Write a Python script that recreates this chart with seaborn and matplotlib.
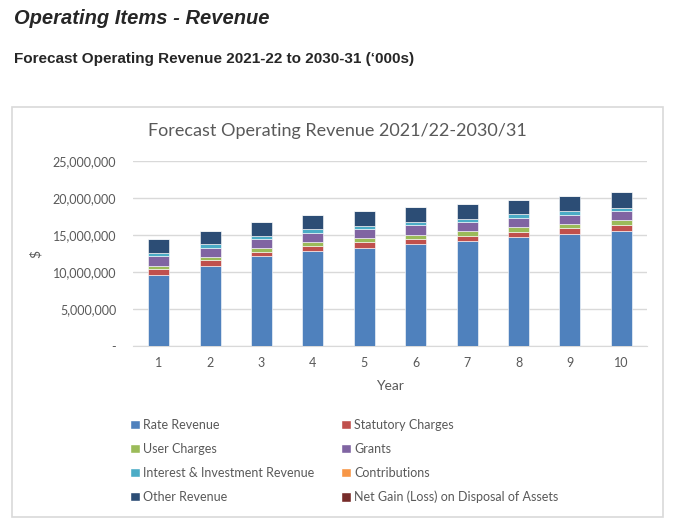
import numpy as np
import pandas as pd
import matplotlib.pyplot as plt
import seaborn as sns
from matplotlib.patches import Rectangle, Patch
from matplotlib.ticker import FuncFormatter

# values, in $ (the chart axis is labelled $)
years = [1, 2, 3, 4, 5, 6, 7, 8, 9, 10]
rate_revenue = [9.64e6, 10.81e6, 12.12e6, 12.88e6, 13.29e6, 13.78e6, 14.19e6, 14.68e6, 15.14e6, 15.54e6]
statutory_charges = [0.72e6, 0.81e6, 0.63e6, 0.63e6, 0.72e6, 0.68e6, 0.72e6, 0.77e6, 0.77e6, 0.81e6]
user_charges = [0.50e6, 0.40e6, 0.50e6, 0.54e6, 0.59e6, 0.59e6, 0.63e6, 0.59e6, 0.63e6, 0.63e6]
grants = [1.30e6, 1.26e6, 1.26e6, 1.26e6, 1.22e6, 1.31e6, 1.26e6, 1.26e6, 1.22e6, 1.26e6]
interest_investment = [0.45e6, 0.45e6, 0.40e6, 0.45e6, 0.45e6, 0.45e6, 0.40e6, 0.50e6, 0.45e6, 0.45e6]
contributions = [0, 0, 0, 0, 0, 0, 0, 0, 0, 0]
other_revenue = [1.85e6, 1.85e6, 1.89e6, 1.89e6, 1.94e6, 1.94e6, 2.03e6, 1.94e6, 2.12e6, 2.16e6]
net_gain = [0, 0, 0, 0, 0, 0, 0, 0, 0, 0]

series = [
    ("Rate Revenue", rate_revenue, "#4f81bd"),
    ("Statutory Charges", statutory_charges, "#c0504d"),
    ("User Charges", user_charges, "#9bbb59"),
    ("Grants", grants, "#8064a2"),
    ("Interest & Investment Revenue", interest_investment, "#4bacc6"),
    ("Contributions", contributions, "#f79646"),
    ("Other Revenue", other_revenue, "#2c4d75"),
    ("Net Gain (Loss) on Disposal of Assets", net_gain, "#772c2a"),
]

sns.set_style("white")
plt.rcParams['font.family'] = ['Lato', 'DejaVu Sans']

W, H = 675, 528
fig = plt.figure(figsize=(W / 100, H / 100), dpi=100)
fig.patch.set_facecolor("white")

# page header text
fig.text(14 / W, 1 - 19 / H, "Operating Items - Revenue", fontsize=14.5, fontweight="bold",
         fontstyle="italic", family=["Liberation Sans", "DejaVu Sans"], va="center", ha="left")
fig.text(14 / W, 1 - 59 / H, "Forecast Operating Revenue 2021-22 to 2030-31 (\u2018000s)", fontsize=11,
         fontweight="bold", family=["Liberation Sans Narrow", "Liberation Sans", "DejaVu Sans"],
         va="center", ha="left")

# chart frame
fig.patches.append(Rectangle((12 / W, 1 - 517 / H), 651 / W, 410 / H, transform=fig.transFigure,
                             fill=False, edgecolor="#d9d9d9", linewidth=1.2))

ax = fig.add_axes([133 / W, 1 - 346 / H, 514 / W, 185 / H])

df = pd.DataFrame({"Year": years})
bottom = np.zeros(len(years))
for name, vals, col in series:
    df[name] = vals
    sns.barplot(x=df["Year"], y=df[name], bottom=bottom, color=col, saturation=1, width=0.41,
                edgecolor="white", linewidth=0.4, ax=ax, zorder=3)
    bottom = bottom + np.array(vals)

ax.set_ylim(0, 25e6)
ax.set_yticks(np.arange(0, 25e6 + 1, 5e6))
ax.yaxis.set_major_formatter(FuncFormatter(lambda v, p: "-" if v == 0 else f"{v:,.0f}"))
ax.grid(axis="y", color="#d9d9d9", linewidth=1, zorder=0)
for s in ["top", "right", "left"]:
    ax.spines[s].set_visible(False)
ax.spines["bottom"].set_color("#d9d9d9")
ax.tick_params(axis="both", length=0, labelsize=9, colors="#595959", pad=12)
ax.tick_params(axis="x", pad=8)
ax.set_xlabel("Year", fontsize=10, color="#595959", labelpad=8)
ax.set_ylabel("$", fontsize=10, color="#595959", labelpad=8)

fig.text(337 / W, 1 - 131 / H, "Forecast Operating Revenue 2021/22-2030/31", fontsize=13,
         color="#595959", ha="center", va="center")

# legend in two columns
handles = [Patch(facecolor=c, label=n) for n, v, c in series]
left = [handles[i] for i in (0, 2, 4, 6)]
right = [handles[i] for i in (1, 3, 5, 7)]
for hs, x in ((left, 124), (right, 335)):
    fig.legend(handles=hs, loc="upper left", bbox_to_anchor=(x / W, 1 - 413 / H), frameon=False,
               fontsize=9, labelcolor="#595959", handlelength=0.75, handleheight=0.75,
               handletextpad=0.3, labelspacing=0.95, borderpad=0)

fig.savefig("out.png", dpi=100)
